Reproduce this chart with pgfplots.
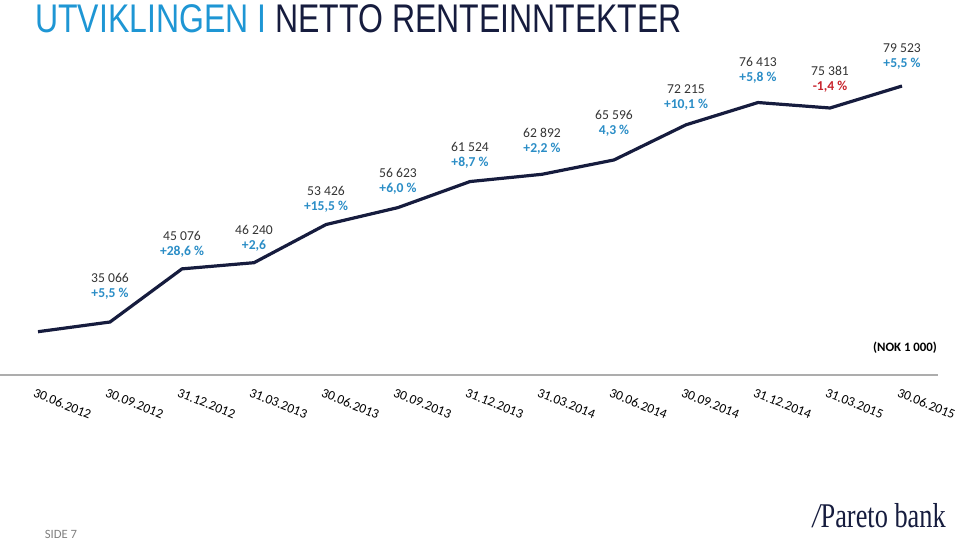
\documentclass[border=0pt]{standalone}
\usepackage{pgfplots}
\pgfplotsset{compat=1.18}
\usepackage{fontspec}
\setmainfont{Carlito}
\newfontfamily\titlefont[FakeStretch=0.8]{Liberation Sans}
\newfontfamily\logofont[FakeStretch=0.76]{Liberation Serif}
\definecolor{navy}{HTML}{161C3E}
\definecolor{tblue}{HTML}{1E96D4}
\definecolor{pblue}{HTML}{2A8DC6}
\definecolor{pred}{HTML}{C8232C}
\definecolor{valgray}{HTML}{333333}
\newcommand\lbl[5]{%
  \node[font=\fontsize{10.2}{11}\selectfont, text=valgray, inner sep=0, yshift=#3*0.75pt] at (axis cs:#1,#2) {#4};
  \node[font=\fontsize{10.2}{11}\selectfont\bfseries, inner sep=0, yshift=#3*0.75pt-11.8pt] at (axis cs:#1,#2) {#5};}
\begin{document}
\begin{tikzpicture}[x=0.75pt,y=-0.75pt]
\path[use as bounding box] (0,0) rectangle (959,541);
\node[anchor=base west, inner sep=0] at (35,33) {\titlefont\fontsize{30}{30}\selectfont\textcolor{tblue}{UTVIKLINGEN I} \textcolor{navy}{NETTO RENTEINNTEKTER}};
\begin{axis}[at={(0pt,-281.25pt)}, anchor=south west, scale only axis,
  width=703.5pt, height=281.25pt,
  xmin=-0.528, xmax=12.5, ymin=25081, ymax=95729,
  axis x line=bottom, axis y line=none,
  x axis line style={-, draw=black!32, line width=1.1pt},
  xtick={0,...,12}, major tick length=0pt,
  xticklabels={30.06.2012,30.09.2012,31.12.2012,31.03.2013,30.06.2013,30.09.2013,31.12.2013,31.03.2014,30.06.2014,30.09.2014,31.12.2014,31.03.2015,30.06.2015},
  x tick label style={rotate=-22, anchor=north west, inner sep=0pt, yshift=-9.5pt, xshift=2pt, font=\fontsize{10}{10}\selectfont},
  clip=false]
\addplot[navy, line width=2.4pt, no markers] coordinates {
(0,33238) (1,35066) (2,45076) (3,46240) (4,53426) (5,56623) (6,61524)
(7,62892) (8,65596) (9,72215) (10,76413) (11,75381) (12,79523)};
\lbl{1}{35066}{44}{35 066}{\textcolor{pblue}{+5,5 \%}}
\lbl{2}{45076}{33}{45 076}{\textcolor{pblue}{+28,6 \%}}
\lbl{3}{46240}{33}{46 240}{\textcolor{pblue}{+2,6}}
\lbl{4}{53426}{34}{53 426}{\textcolor{pblue}{+15,5 \%}}
\lbl{5}{56623}{35}{56 623}{\textcolor{pblue}{+6,0 \%}}
\lbl{6}{61524}{35}{61 524}{\textcolor{pblue}{+8,7 \%}}
\lbl{7}{62892}{41}{62 892}{\textcolor{pblue}{+2,2 \%}}
\lbl{8}{65596}{45}{65 596}{\textcolor{pblue}{4,3 \%}}
\lbl{9}{72215}{36}{72 215}{\textcolor{pblue}{+10,1 \%}}
\lbl{10}{76413}{41}{76 413}{\textcolor{pblue}{+5,8 \%}}
\lbl{11}{75381}{37}{75 381}{\textcolor{pred}{-1,4 \%}}
\lbl{12}{79523}{38}{79 523}{\textcolor{pblue}{+5,5 \%}}
\end{axis}
\node[font=\fontsize{9.6}{10}\selectfont\bfseries, inner sep=0] at (905,348) {(NOK 1 000)};
\node[font=\fontsize{9.5}{10}\selectfont, text=black!50, inner sep=0] at (61,534) {SIDE 7};
\node[anchor=base east, inner sep=0, text=navy] at (946,527) {\logofont\fontsize{26}{27}\selectfont\textit{/}\kern-1pt Pareto bank};
\end{tikzpicture}
\end{document}
